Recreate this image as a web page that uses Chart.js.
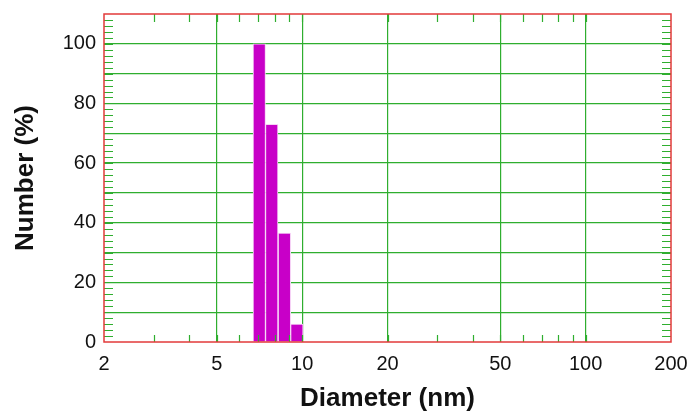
<!DOCTYPE html>
<html>
<head>
<meta charset="utf-8">
<script src="https://cdn.jsdelivr.net/npm/chart.js@4"></script>
<style>
  html, body { margin: 0; padding: 0; background: #fff; }
  #wrap { width: 690px; height: 412px; }
</style>
</head>
<body>
<div id="wrap"><canvas id="myChart" width="690" height="412"></canvas></div>
<script>
// size distribution
var diameters = [7.06, 7.81, 8.66, 9.58];
var numbers = [100, 73, 36.5, 6];

// x axis (log) tick positions, which get a label, which get a grid line
var xTicks = [2, 3, 4, 5, 6, 7, 8, 9, 10, 20, 30, 40, 50, 60, 70, 80, 90, 100, 200];
var xLabels = [2, 5, 10, 20, 50, 100, 200];
var xGrid = [5, 10, 20, 50, 100];

// y axis
var yMin = 0, yMax = 110;
var yMinorStep = 2;
var yGridStep = 10;
var yLabelStep = 20;

var green = '#2fae2f';
var red = '#e23a3a';
var fontFam = 'Arial, "Liberation Sans", sans-serif';

var points = diameters.map(function (d, i) { return { x: d, y: numbers[i] }; });

// inner tick marks + red frame
var frame = {
  id: 'frame',
  afterDatasetsDraw: function (chart) {
    var c = chart.ctx, a = chart.chartArea;
    var xs = chart.scales.x, ys = chart.scales.y;
    c.save();
    c.strokeStyle = green;
    c.lineWidth = 1.2;
    c.beginPath();
    xTicks.forEach(function (v) {
      if (v <= xs.min || v >= xs.max) return;
      var px = Math.round(xs.getPixelForValue(v)) + 0.5;
      c.moveTo(px, a.bottom); c.lineTo(px, a.bottom - 7);
      c.moveTo(px, a.top); c.lineTo(px, a.top + 8);
    });
    for (var v = yMin + yMinorStep; v < yMax; v += yMinorStep) {
      var py = Math.round(ys.getPixelForValue(v)) + 0.5;
      c.moveTo(a.left, py); c.lineTo(a.left + 9, py);
      c.moveTo(a.right, py); c.lineTo(a.right - 9, py);
    }
    c.stroke();
    c.strokeStyle = red;
    c.lineWidth = 1.5;
    c.strokeRect(a.left, a.top, a.right - a.left, a.bottom - a.top);
    c.restore();
  }
};

var chart = new Chart(document.getElementById('myChart'), {
  type: 'bar',
  data: {
    datasets: [{
      label: 'Number',
      data: points,
      backgroundColor: '#c800c8',
      borderColor: '#f6d2f6',
      borderWidth: 1,
      barPercentage: 1,
      categoryPercentage: 1
    }]
  },
  plugins: [frame],
  options: {
    responsive: false,
    animation: false,
    layout: { padding: { left: 0, right: 19, top: 14, bottom: 0 } },
    plugins: {
      legend: { display: false },
      tooltip: { enabled: false }
    },
    scales: {
      x: {
        type: 'logarithmic',
        min: 2,
        max: 200,
        offset: false,
        afterFit: function (s) {
          s.height = 70;
          s.paddingLeft = 0;
          s.paddingRight = 0;
        },
        afterBuildTicks: function (s) {
          s.ticks = xTicks.map(function (v) { return { value: v }; });
        },
        border: { display: false },
        grid: {
          offset: false,
          drawTicks: false,
          color: function (ctx) {
            return ctx.tick && xGrid.indexOf(ctx.tick.value) >= 0 ? green : 'rgba(0,0,0,0)';
          },
          lineWidth: 1.2
        },
        ticks: {
          autoSkip: false,
          maxRotation: 0,
          padding: 10,
          color: '#111',
          font: { family: fontFam, size: 20 },
          callback: function (v) { return xLabels.indexOf(v) >= 0 ? String(v) : ''; }
        },
        title: {
          display: true,
          text: 'Diameter (nm)',
          color: '#111',
          font: { family: fontFam, size: 26, weight: 'bold', lineHeight: 1 },
          padding: { top: 0, bottom: 0 }
        }
      },
      y: {
        min: yMin,
        max: yMax,
        afterFit: function (s) {
          s.width = 104;
          s.paddingTop = 0;
          s.paddingBottom = 0;
        },
        border: { display: false },
        grid: {
          drawTicks: false,
          color: function (ctx) {
            var v = ctx.tick ? ctx.tick.value : 0;
            return (v > yMin && v < yMax) ? green : 'rgba(0,0,0,0)';
          },
          lineWidth: 1.2
        },
        ticks: {
          stepSize: yGridStep,
          padding: 8,
          color: '#111',
          font: { family: fontFam, size: 20 },
          callback: function (v) { return v % yLabelStep === 0 ? String(v) : ''; }
        },
        title: {
          display: true,
          text: 'Number (%)',
          color: '#111',
          font: { family: fontFam, size: 26, weight: 'bold' },
          padding: { top: 10, bottom: 0 }
        }
      }
    }
  }
});
</script>
</body>
</html>
